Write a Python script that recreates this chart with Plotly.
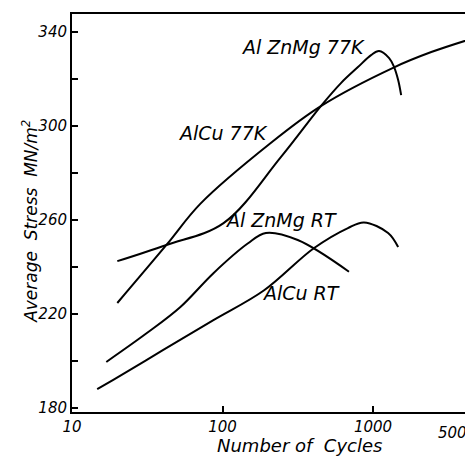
import plotly.graph_objects as go
import math

# AlCu RT
alcu_rt_x = [14.7, 18.8, 40.4, 87, 188, 404, 681, 870, 1259, 1468]
alcu_rt_y = [188, 192, 204.7, 217.4, 230, 248, 256.6, 259, 254.5, 248.5]
# AlZnMg RT
alznmg_rt_x = [16.9, 31.6, 52.5, 87, 147, 194, 316, 692]
alznmg_rt_y = [199.6, 212, 223, 237.4, 250, 254.5, 251.5, 238]
# AlCu 77K
alcu_77_x = [20, 42.4, 71.4, 209, 450, 1380, 2437, 4700]
alcu_77_y = [224.7, 249.4, 267, 292.8, 308.5, 325, 331.5, 337.5]
# AlZnMg 77K
alznmg_77_x = [20, 42.4, 101.6, 244, 450, 612, 794, 970, 1096, 1279, 1380, 1468, 1537]
alznmg_77_y = [242.5, 249.4, 258.7, 286.8, 308.5, 318.3, 325.1, 330.2, 331.9, 328.9, 325.1, 319.6, 313.2]

curve_labels = ["Al ZnMg 77K", "AlCu 77K", "Al ZnMg RT", "AlCu RT"]
label_x = [341, 100, 244, 331]
label_y = [333.6, 297, 260, 229]

x_ticks = [10, 100, 1000]
x_extra_tick = 5000
y_major = [180, 220, 260, 300, 340]

FONT = "DejaVu Sans"
XMIN, XMAX = 1, 3.664

fig = go.Figure()
for xs, ys in [(alcu_rt_x, alcu_rt_y), (alznmg_rt_x, alznmg_rt_y),
               (alcu_77_x, alcu_77_y), (alznmg_77_x, alznmg_77_y)]:
    fig.add_trace(go.Scatter(x=xs, y=ys, mode="lines",
                             line=dict(color="black", width=2, shape="spline", smoothing=1.0),
                             showlegend=False, hoverinfo="skip"))

for t, x, y in zip(curve_labels, label_x, label_y):
    fig.add_annotation(x=math.log10(x), y=y, xref="x", yref="y", text=t,
                       showarrow=False, font=dict(family=FONT, size=19, color="black", style="italic"))

fig.add_annotation(x=(math.log10(x_extra_tick) - XMIN) / (XMAX - XMIN), y=0,
                   xref="paper", yref="paper", yanchor="top", yshift=-10,
                   text=str(x_extra_tick), showarrow=False,
                   font=dict(family=FONT, size=15, color="black", style="italic"))

fig.add_annotation(x=0.5675, y=-0.083, xref="paper", yref="paper", yanchor="middle",
                   text="Number of  Cycles", showarrow=False,
                   font=dict(family=FONT, size=18, color="black", style="italic"))
fig.add_annotation(x=-0.105, y=0.48, xref="paper", yref="paper", xanchor="center",
                   text="Average  Stress  MN/m<sup>2</sup>", textangle=-90, showarrow=False,
                   font=dict(family=FONT, size=17, color="black", style="italic"))

fig.update_layout(
    width=465, height=450,
    margin=dict(l=64, r=0, t=6, b=46),
    plot_bgcolor="white", paper_bgcolor="white",
    xaxis=dict(type="log", range=[XMIN, XMAX], showgrid=False, zeroline=False,
               showline=True, linecolor="black", linewidth=2, mirror=True,
               ticks="inside", ticklen=6, tickcolor="black", tickwidth=1.5,
               tickvals=x_ticks, ticktext=[str(v) for v in x_ticks],
               tickfont=dict(family=FONT, size=15, color="black", style="italic")),
    yaxis=dict(range=[178.3, 347.7], showgrid=False, zeroline=False,
               showline=True, linecolor="black", linewidth=2,
               ticks="inside", ticklen=6, tickcolor="black", tickwidth=1.5,
               tickvals=y_major, ticktext=[str(v) for v in y_major],
               minor=dict(ticks="inside", ticklen=6, tickcolor="black", dtick=20, tick0=180),
               tickfont=dict(family=FONT, size=15, color="black", style="italic")),
)

fig.write_html("out.html")
